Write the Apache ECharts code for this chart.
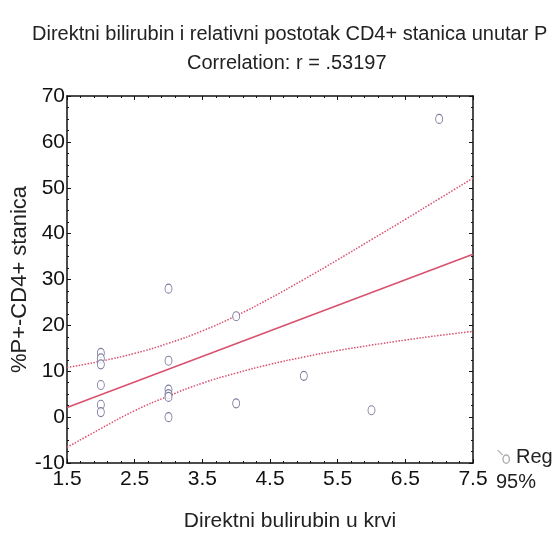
<!DOCTYPE html>
<html>
<head>
<meta charset="utf-8">
<script src="https://cdn.jsdelivr.net/npm/echarts@6/dist/echarts.min.js"></script>
<style>
  html, body { margin: 0; padding: 0; background: #fff; }
  #main { width: 558px; height: 536px; }
</style>
</head>
<body>
<div id="main"></div>
<script>
var myChart = echarts.init(document.getElementById('main'));

// observed points (direct bilirubin, %P+ CD4+)
var xVals = [2, 2, 2, 2, 2, 2, 3, 3, 3, 3, 3, 3, 4, 4, 5, 6, 7];
var yVals = [14, 12.8, 11.5, 7, 2.7, 1.1, 28, 12.3, 6, 5, 4.4, 0, 22, 3, 9, 1.5, 65];

// regression line, read at the plot edges
var regX = [1.5, 7.5];
var regY = [2.1, 35.5];

// 95% confidence band
var bandX = [1.5, 2, 2.5, 3, 3.5, 4, 4.5, 5, 5.5, 6, 6.5, 7, 7.5];
var upper = [10.8, 12.2, 13.9, 16.1, 18.8, 22.1, 25.9, 30.0, 34.3, 38.7, 43.1, 47.6, 52.1];
var lower = [-6.6, -2.5, 1.4, 4.6, 7.4, 9.6, 11.5, 13.1, 14.5, 15.7, 16.8, 17.8, 18.7];

var xTicks = [1.5, 2.5, 3.5, 4.5, 5.5, 6.5, 7.5];

function pairs(xs, ys) {
    return xs.map(function (x, i) { return [x, ys[i]]; });
}

var red = '#d9506e';
var labelFont = '"Liberation Sans", Arial, sans-serif';
// little "o" with a slash, like the legend key of the original
var regIcon = 'path://M0,0L1.2,0L5.2,4L4.4,4.8Z M8,3.8A3.4,4.2 0 1,1 7.99,3.8Z M8,5A2.2,3 0 1,0 8.01,5Z';

var baseAxis = {
    type: 'value',
    axisLine: { show: true, onZero: false, lineStyle: { color: '#111', width: 1.5 } },
    axisTick: { show: true, inside: true, length: 4, lineStyle: { color: '#111' } },
    minorTick: { show: true, splitNumber: 5, length: 2, lineStyle: { color: '#111' } },
    splitLine: { show: false },
    minorSplitLine: { show: false }
};

option = {
    backgroundColor: '#fff',
    title: [{
        text: 'Direktni bilirubin i relativni postotak CD4+ stanica unutar P',
        left: 27,
        top: 19,
        textStyle: { fontSize: 20, fontWeight: 'normal', color: '#222', fontFamily: labelFont }
    }, {
        text: 'Correlation: r = .53197',
        left: 182,
        top: 48,
        textStyle: { fontSize: 20, fontWeight: 'normal', color: '#222', fontFamily: labelFont }
    }],
    legend: [{
        data: [{ name: 'Reg', icon: regIcon }],
        left: 492,
        top: 442,
        itemWidth: 15,
        itemHeight: 14,
        itemGap: 4,
        itemStyle: { color: '#999', borderWidth: 0 },
        textStyle: { fontSize: 20, color: '#222', fontFamily: labelFont }
    }, {
        data: [{ name: '95%', icon: 'none' }],
        left: 486,
        top: 467,
        itemWidth: 0,
        itemHeight: 0,
        textStyle: { fontSize: 20, color: '#222', fontFamily: labelFont }
    }],
    grid: { left: 67, right: 85, top: 96, bottom: 73, containLabel: false, outerBoundsMode: 'none' },
    xAxis: [Object.assign({}, baseAxis, {
        min: 1.5,
        max: 7.5,
        interval: 1,
        name: 'Direktni bulirubin u krvi',
        nameLocation: 'middle',
        nameGap: 48,
        nameMoveOverlap: false,
        nameTextStyle: { fontSize: 21, color: '#222', fontFamily: labelFont, padding: [0, 0, 0, 40] },
        axisLabel: {
            fontSize: 21, color: '#111', margin: 6, fontFamily: labelFont,
            formatter: function (v) { return xTicks.indexOf(v) >= 0 ? v.toFixed(1) : ''; }
        }
    }), Object.assign({}, baseAxis, {
        min: 1.5,
        max: 7.5,
        interval: 1,
        position: 'top',
        axisLabel: { show: false }
    })],
    yAxis: [Object.assign({}, baseAxis, {
        min: -10,
        max: 70,
        interval: 10,
        minorTick: { show: true, splitNumber: 4, length: 2, lineStyle: { color: '#111' } },
        name: '%P+-CD4+ stanica',
        nameLocation: 'middle',
        nameGap: 36,
        nameMoveOverlap: false,
        nameTextStyle: { fontSize: 22, color: '#222', fontFamily: labelFont },
        axisLabel: { fontSize: 21, color: '#111', margin: 2, fontFamily: labelFont }
    }), Object.assign({}, baseAxis, {
        min: -10,
        max: 70,
        interval: 10,
        minorTick: { show: true, splitNumber: 4, length: 2, lineStyle: { color: '#111' } },
        position: 'right',
        axisLabel: { show: false }
    })],
    series: [{
        name: 'Reg',
        type: 'scatter',
        data: pairs(xVals, yVals),
        symbol: 'circle',
        symbolSize: [7, 9],
        itemStyle: { color: '#fff', borderColor: '#5c5c88', borderWidth: 1 },
        z: 5
    }, {
        name: 'Reg',
        type: 'line',
        data: pairs(regX, regY),
        showSymbol: false,
        lineStyle: { color: red, width: 1.5 }
    }, {
        name: '95%',
        type: 'line',
        data: pairs(bandX, upper),
        showSymbol: false,
        smooth: true,
        lineStyle: { color: red, width: 1.5, type: 'dotted' }
    }, {
        name: '95%',
        type: 'line',
        data: pairs(bandX, lower),
        showSymbol: false,
        smooth: true,
        lineStyle: { color: red, width: 1.5, type: 'dotted' }
    }]
};

myChart.setOption(option);
</script>
</body>
</html>
